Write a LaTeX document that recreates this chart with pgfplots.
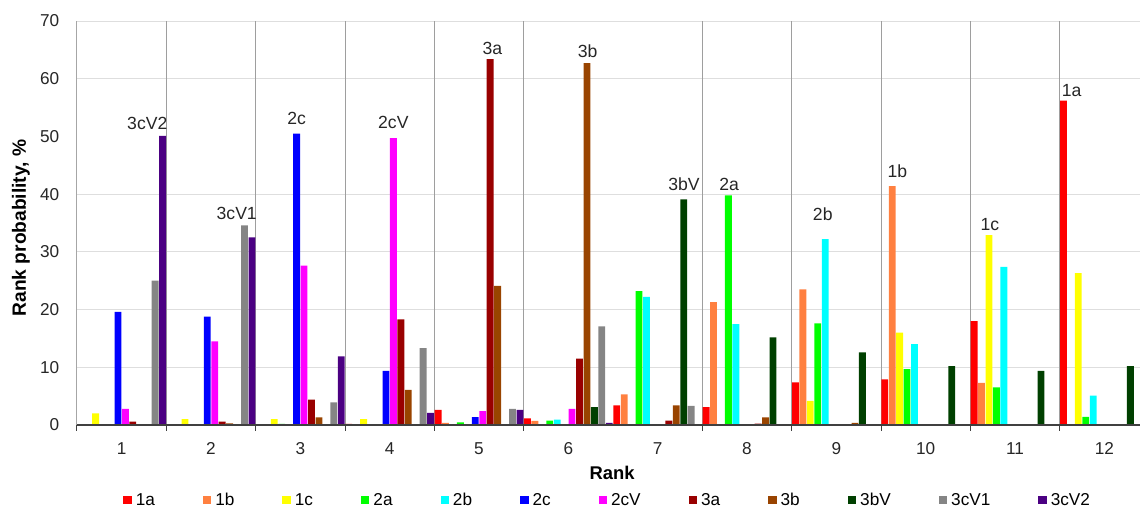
\documentclass[border=0pt]{standalone}
\usepackage{pgfplots}
\pgfplotsset{compat=1.18}
\usepackage{pgfplotstable}
\usepackage{fontspec}
\setmainfont{Liberation Sans}

\definecolor{c1a}{HTML}{FF0000}
\definecolor{c1b}{HTML}{FF8040}
\definecolor{c1c}{HTML}{FFFF00}
\definecolor{c2a}{HTML}{00FF00}
\definecolor{c2b}{HTML}{00FFFF}
\definecolor{c2c}{HTML}{0000FF}
\definecolor{c2cV}{HTML}{FF00FF}
\definecolor{c3a}{HTML}{990000}
\definecolor{c3b}{HTML}{994400}
\definecolor{c3bV}{HTML}{004000}
\definecolor{c3cV1}{HTML}{858585}
\definecolor{c3cV2}{HTML}{4B0082}

\pgfplotstableread{
rank  a1    b1    c1    a2    b2    c2    cV2   a3    b3    bV3   cVa   cVb
1     0     0     2.0   0     0     19.6  2.8   0.6   0     0     25.0  50.1
2     0     0     1.0   0     0     18.8  14.5  0.6   0.3   0     34.6  32.5
3     0     0     1.0   0.2   0     50.5  27.6  4.4   1.3   0     3.9   11.9
4     0.2   0     1.0   0     0     9.4   49.7  18.3  6.1   0     13.3  2.1
5     2.6   0.35  0     0.45  0.17  1.35  2.4   63.4  24.1  0     2.8   2.6
6     1.15  0.7   0     0.75  0.92  0     2.8   11.5  62.7  3.1   17.1  0.35
7     3.4   5.3   0     23.2  22.2  0     0     0.75  3.4   39.1  3.3   0
8     3.1   21.3  0.17  39.8  17.5  0     0     0.23  1.33  15.2  0     0
9     7.4   23.5  4.2   17.6  32.2  0     0     0     0.35  12.6  0     0
10    7.9   41.4  16.0  9.7   14.0  0     0     0     0     10.2  0     0
11    18.0  7.3   32.9  6.5   27.4  0     0     0     0     9.4   0     0
12    56.2  0     26.3  1.4   5.1   0     0     0     0     10.2  0     0
}\ranktable

\begin{document}
\begin{tikzpicture}
\begin{axis}[
  at={(0,0)}, anchor=south west,
  scale only axis, width=536pt, height=202pt,
  xmin=0.5, xmax=12.5, ymin=0, ymax=70,
  ybar=0.3pt, bar width=3.42pt,
  axis on top,
  clip=false,
  axis x line*=bottom, axis y line*=left,
  x axis line style={draw=black!75, line width=0.6pt},
  y axis line style={draw=black!35, line width=0.5pt},
  xtick={1,...,12}, ytick={0,10,...,70},
  xtick style={draw=none}, ytick style={draw=none},
  tick label style={font=\fontsize{8.6}{10}\selectfont, text=black!85},
  /pgf/number format/assume math mode=true,
  xticklabel style={yshift=-1pt},
  yticklabel style={xshift=-5.4pt},
  every axis plot post/.append style={legend image code/.code={\fill[##1] (0pt,-2.1pt) rectangle (4.2pt,2.1pt);}},
  legend columns=12,
  legend style={at={(0.4960,-0.1850)}, anchor=center, draw=none, fill=none,
    inner sep=0pt, nodes={inner ysep=0.5pt, text height=6.2pt, text depth=0pt},
    font=\fontsize{8.6}{10}\selectfont,
    /tikz/every even column/.append style={column sep=22pt}},
]
\pgfplotsinvokeforeach{10,20,30,40,60,70}{
  \draw[black!13, line width=0.5pt] (axis cs:0.5,#1) -- (axis cs:12.5,#1);
}
\pgfplotsinvokeforeach{1.5,2.5,3.5,4.5,5.5,7.5,8.5,9.5,10.5,11.5}{
  \draw[black!38, line width=0.5pt] (axis cs:#1,70) -- (axis cs:#1,0);
}
\pgfplotsinvokeforeach{0.5,1.5,2.5,3.5,4.5,5.5,7.5,8.5,9.5,10.5,11.5}{
  \draw[black!75, line width=0.5pt] (axis cs:#1,0) -- ([yshift=-2.8pt]axis cs:#1,0);
}
\addplot[fill=c1a, draw=none] table[x=rank, y=a1] {\ranktable};
\addlegendentry{1a}
\addplot[fill=c1b, draw=none] table[x=rank, y=b1] {\ranktable};
\addlegendentry{1b}
\addplot[fill=c1c, draw=none] table[x=rank, y=c1] {\ranktable};
\addlegendentry{1c}
\addplot[fill=c2a, draw=none] table[x=rank, y=a2] {\ranktable};
\addlegendentry{2a}
\addplot[fill=c2b, draw=none] table[x=rank, y=b2] {\ranktable};
\addlegendentry{2b}
\addplot[fill=c2c, draw=none] table[x=rank, y=c2] {\ranktable};
\addlegendentry{2c}
\addplot[fill=c2cV, draw=none] table[x=rank, y=cV2] {\ranktable};
\addlegendentry{2cV}
\addplot[fill=c3a, draw=none] table[x=rank, y=a3] {\ranktable};
\addlegendentry{3a}
\addplot[fill=c3b, draw=none] table[x=rank, y=b3] {\ranktable};
\addlegendentry{3b}
\addplot[fill=c3bV, draw=none] table[x=rank, y=bV3] {\ranktable};
\addlegendentry{3bV}
\addplot[fill=c3cV1, draw=none] table[x=rank, y=cVa] {\ranktable};
\addlegendentry{3cV1}
\addplot[fill=c3cV2, draw=none] table[x=rank, y=cVb] {\ranktable};
\addlegendentry{3cV2}

\begin{scope}[every node/.style={font=\fontsize{8.8}{10}\selectfont, text=black!85, inner sep=0pt}]
\node at (axis cs:1.287,52.3) {3cV2};
\node at (axis cs:2.288,36.7) {3cV1};
\node at (axis cs:2.959,53.1) {2c};
\node at (axis cs:4.041,52.4) {2cV};
\node at (axis cs:5.149,65.2) {3a};
\node at (axis cs:6.217,64.8) {3b};
\node at (axis cs:7.295,41.7) {3bV};
\node at (axis cs:7.799,41.7) {2a};
\node at (axis cs:8.848,36.6) {2b};
\node at (axis cs:9.683,43.9) {1b};
\node at (axis cs:10.72,34.7) {1c};
\node at (axis cs:11.635,57.9) {1a};
\end{scope}
\end{axis}
\node[rotate=90, font=\bfseries\fontsize{9.6}{11}\selectfont] at (-28pt,98.5pt) {Rank probability, \%};
\node[font=\bfseries\fontsize{9.2}{11}\selectfont] at (267.5pt,-24pt) {Rank};
\pgfresetboundingbox
\useasboundingbox (-38.5pt,-42pt) rectangle (531.5pt,212.5pt);
\end{tikzpicture}
\end{document}
